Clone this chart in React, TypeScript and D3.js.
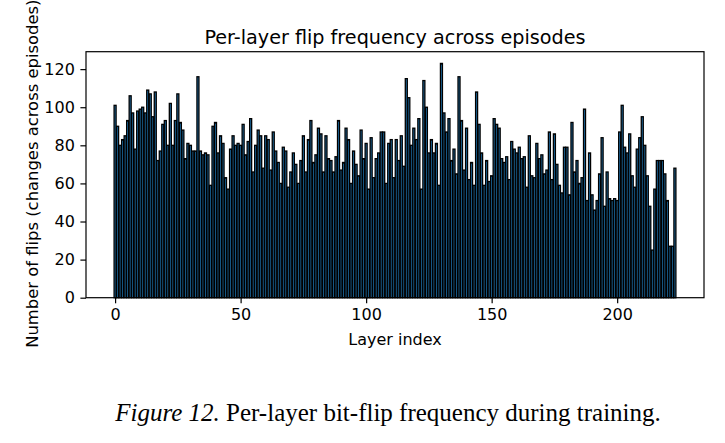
import { useEffect, useRef } from 'react';
import * as d3 from 'd3';

// flip counts per layer
const flips: number[] = [
  101, 90, 80, 83, 85, 93, 106, 97, 78, 98, 99, 100, 97, 109, 107, 95, 108, 72, 77, 91,
  93, 80, 102, 80, 93, 107, 92, 88, 73, 81, 80, 77, 77, 116, 77, 75, 76, 75, 59, 90,
  92, 76, 85, 81, 63, 57, 78, 85, 80, 81, 80, 91, 75, 82, 94, 66, 80, 88, 85, 68,
  85, 83, 67, 87, 77, 71, 60, 79, 77, 58, 66, 76, 70, 60, 72, 85, 66, 83, 93, 71,
  75, 89, 86, 66, 85, 73, 72, 66, 74, 93, 67, 71, 89, 83, 60, 77, 70, 64, 88, 73,
  81, 57, 84, 63, 73, 76, 87, 87, 60, 81, 83, 63, 83, 72, 85, 69, 115, 105, 80, 89,
  83, 94, 57, 114, 100, 76, 83, 76, 81, 59, 123, 97, 87, 94, 72, 78, 65, 116, 93, 67,
  89, 62, 71, 59, 108, 91, 76, 59, 72, 61, 64, 94, 91, 89, 73, 71, 74, 62, 82, 78,
  76, 79, 73, 74, 58, 85, 64, 63, 81, 73, 75, 65, 67, 87, 62, 86, 70, 59, 55, 79,
  79, 54, 92, 66, 72, 60, 63, 99, 51, 76, 54, 46, 51, 65, 84, 48, 66, 52, 51, 52,
  51, 87, 101, 79, 76, 86, 64, 58, 78, 84, 95, 80, 64, 48, 25, 57, 72, 72, 72, 65,
  51, 27, 27, 68,
];

const yTicks = [0, 20, 40, 60, 80, 100, 120];
const xTicks = [0, 50, 100, 150, 200];

const W = 725;
const H = 443;
const box = { left: 86, right: 704, top: 51.7, bottom: 297.7 };

export default function App() {
  const ref = useRef<SVGSVGElement>(null);

  useEffect(() => {
    const svg = d3.select(ref.current);
    svg.selectAll('*').remove();

    const n = flips.length;
    const bw = 0.8;
    const lo = -bw / 2;
    const hi = n - 1 + bw / 2;
    const pad = (hi - lo) * 0.05;
    const x = d3.scaleLinear().domain([lo - pad, hi + pad]).range([box.left, box.right]);
    const yMax = (d3.max(flips) ?? 0) * 1.05;
    const y = d3.scaleLinear().domain([0, yMax]).range([box.bottom, box.top]);

    const font = 'DejaVu Sans, sans-serif';

    svg
      .append('g')
      .selectAll('rect')
      .data(flips)
      .join('rect')
      .attr('x', (_, i) => x(i - bw / 2))
      .attr('y', (d) => y(d))
      .attr('width', x(bw) - x(0))
      .attr('height', (d) => y(0) - y(d))
      .attr('fill', '#1f77b4')
      .attr('stroke', '#000')
      .attr('stroke-width', 1.3);

    // frame
    svg
      .append('rect')
      .attr('x', box.left)
      .attr('y', box.top)
      .attr('width', box.right - box.left)
      .attr('height', box.bottom - box.top)
      .attr('fill', 'none')
      .attr('stroke', '#000')
      .attr('stroke-width', 1.2);

    const yAxis = svg
      .append('g')
      .attr('transform', `translate(${box.left},0)`)
      .call(d3.axisLeft(y).tickValues(yTicks).tickSize(5.6).tickPadding(5.6).tickSizeOuter(0));
    yAxis.select('.domain').remove();
    yAxis.selectAll('line').attr('stroke-width', 1.2);
    yAxis.selectAll('text').attr('font-size', 16).attr('font-family', font).attr('fill', '#000');

    const xAxis = svg
      .append('g')
      .attr('transform', `translate(0,${box.bottom})`)
      .call(d3.axisBottom(x).tickValues(xTicks).tickSize(5.6).tickPadding(5.6).tickSizeOuter(0));
    xAxis.select('.domain').remove();
    xAxis.selectAll('line').attr('stroke-width', 1.2);
    xAxis.selectAll('text').attr('font-size', 16).attr('font-family', font).attr('fill', '#000');

    svg
      .append('text')
      .attr('x', (box.left + box.right) / 2)
      .attr('y', 44)
      .attr('text-anchor', 'middle')
      .attr('font-family', font)
      .attr('font-size', 19.2)
      .text('Per-layer flip frequency across episodes');

    svg
      .append('text')
      .attr('x', (box.left + box.right) / 2)
      .attr('y', 345)
      .attr('text-anchor', 'middle')
      .attr('font-family', font)
      .attr('font-size', 16)
      .text('Layer index');

    svg
      .append('text')
      .attr('transform', `translate(37.5,${(box.top + box.bottom) / 2 - 1}) rotate(-90)`)
      .attr('text-anchor', 'middle')
      .attr('font-family', font)
      .attr('font-size', 16.4)
      .text('Number of flips (changes across episodes)');

    const cap = svg
      .append('text')
      .attr('x', 388)
      .attr('y', 421)
      .attr('text-anchor', 'middle')
      .attr('font-family', 'Liberation Serif, serif')
      .attr('font-size', 25);
    cap.append('tspan').attr('font-style', 'italic').text('Figure 12.');
    cap.append('tspan').text(' Per-layer bit-flip frequency during training.');
  }, []);

  return (
    <svg
      ref={ref}
      width={W}
      height={H}
      style={{ position: 'absolute', left: 0, top: 0, background: '#fff' }}
    />
  );
}
